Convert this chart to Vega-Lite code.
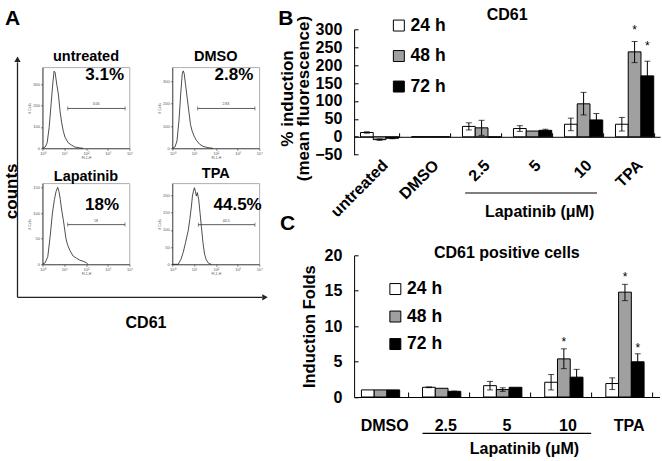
{
  "$schema": "https://vega.github.io/schema/vega-lite/v6.json",
  "autosize": {"type": "none"},
  "padding": {"left": 42.5, "top": 29.3, "right": 619.5, "bottom": 431.7},
  "background": "white",
  "config": {
    "font": "Liberation Sans",
    "view": {"stroke": null},
    "title": {"color": "black", "fontWeight": "bold", "font": "Liberation Sans"},
    "axis": {"labelFont": "Liberation Sans", "titleFont": "Liberation Sans", "grid": false},
    "legend": {"labelFont": "Liberation Sans"}
  },
  "columns": 3,
  "align": "none",
  "bounds": "flush",
  "spacing": {"row": -200, "column": 42.8},
  "resolve": {"scale": {"color": "independent"}, "legend": {"color": "independent"}},
  "datasets": {
    "hu": [{"x":1,"y":0},{"x":1.33,"y":6},{"x":1.64,"y":26},{"x":2.02,"y":97},{"x":2.49,"y":207},{"x":2.96,"y":300},{"x":3.4,"y":360},{"x":3.78,"y":355},{"x":4.5,"y":300},{"x":5.36,"y":253},{"x":6.38,"y":175},{"x":7.59,"y":120},{"x":9.04,"y":80},{"x":10.8,"y":52},{"x":15.2,"y":26},{"x":21.6,"y":15},{"x":30.6,"y":6},{"x":51.7,"y":2},{"x":73.3,"y":0}],
    "hd": [{"x":1,"y":0},{"x":1.33,"y":6},{"x":1.64,"y":33},{"x":2.02,"y":123},{"x":2.49,"y":258},{"x":2.86,"y":333},{"x":3.17,"y":348},{"x":3.52,"y":336},{"x":4.05,"y":288},{"x":4.82,"y":228},{"x":5.74,"y":168},{"x":6.84,"y":108},{"x":8.14,"y":78},{"x":10,"y":55},{"x":12.8,"y":36},{"x":18.2,"y":18},{"x":25.7,"y":9},{"x":43.4,"y":3},{"x":73.3,"y":0}],
    "hl": [{"x":1,"y":0},{"x":1.33,"y":3},{"x":1.75,"y":15},{"x":2.24,"y":54},{"x":2.86,"y":100},{"x":3.52,"y":126},{"x":4.2,"y":142},{"x":5.0,"y":150},{"x":5.74,"y":142},{"x":6.6,"y":126},{"x":7.59,"y":106},{"x":9.04,"y":87},{"x":10,"y":74},{"x":11.9,"y":51},{"x":14.2,"y":38},{"x":18.2,"y":27},{"x":25.7,"y":16},{"x":36.5,"y":12},{"x":51.7,"y":8},{"x":73.3,"y":6},{"x":104,"y":3},{"x":123,"y":0}],
    "ht": [{"x":1,"y":0},{"x":1.88,"y":0},{"x":2.49,"y":14.5},{"x":3.17,"y":34},{"x":4.05,"y":63},{"x":5.36,"y":97},{"x":6.38,"y":130},{"x":7.59,"y":169},{"x":8.43,"y":198},{"x":9.36,"y":212},{"x":10.4,"y":222},{"x":11.5,"y":212},{"x":12.8,"y":198},{"x":14.2,"y":208},{"x":16.4,"y":188},{"x":18.8,"y":150},{"x":21.6,"y":111},{"x":25.7,"y":63},{"x":30.6,"y":29},{"x":36.5,"y":13},{"x":46.6,"y":3},{"x":61.6,"y":0}],
    "bdata": [
      {"cat":"untreated","series":"24 h","v":12},{"cat":"untreated","series":"48 h","v":-8},{"cat":"untreated","series":"72 h","v":-4},
      {"cat":"DMSO","series":"24 h","v":0},{"cat":"DMSO","series":"48 h","v":0},{"cat":"DMSO","series":"72 h","v":0},
      {"cat":"2.5","series":"24 h","v":29},{"cat":"2.5","series":"48 h","v":25},{"cat":"2.5","series":"72 h","v":-1},
      {"cat":"5","series":"24 h","v":23},{"cat":"5","series":"48 h","v":16},{"cat":"5","series":"72 h","v":18},
      {"cat":"10","series":"24 h","v":35},{"cat":"10","series":"48 h","v":92},{"cat":"10","series":"72 h","v":47},
      {"cat":"TPA","series":"24 h","v":35},{"cat":"TPA","series":"48 h","v":237},{"cat":"TPA","series":"72 h","v":170}
    ],
    "berr": [
      {"cat":"untreated","series":"24 h","lo":10,"hi":14},
      {"cat":"untreated","series":"48 h","lo":-10,"hi":-6},
      {"cat":"untreated","series":"72 h","lo":-5.5,"hi":-3},
      {"cat":"2.5","series":"24 h","lo":19,"hi":39},
      {"cat":"2.5","series":"48 h","lo":4,"hi":46},
      {"cat":"5","series":"24 h","lo":15,"hi":31},
      {"cat":"5","series":"72 h","lo":15,"hi":21},
      {"cat":"10","series":"24 h","lo":17,"hi":52},
      {"cat":"10","series":"48 h","lo":61,"hi":124},
      {"cat":"10","series":"72 h","lo":29,"hi":65},
      {"cat":"TPA","series":"24 h","lo":16,"hi":54},
      {"cat":"TPA","series":"48 h","lo":207,"hi":266},
      {"cat":"TPA","series":"72 h","lo":130,"hi":211}
    ],
    "bstar": [{"cat":"TPA","series":"48 h","y":287.7},{"cat":"TPA","series":"72 h","y":241}],
    "cdata": [
      {"cat":"DMSO","series":"24 h","v":1},{"cat":"DMSO","series":"48 h","v":1},{"cat":"DMSO","series":"72 h","v":1},
      {"cat":"2.5","series":"24 h","v":1.37},{"cat":"2.5","series":"48 h","v":1.23},{"cat":"2.5","series":"72 h","v":0.8},
      {"cat":"5","series":"24 h","v":1.6},{"cat":"5","series":"48 h","v":1.05},{"cat":"5","series":"72 h","v":1.37},
      {"cat":"10","series":"24 h","v":2.08},{"cat":"10","series":"48 h","v":5.38},{"cat":"10","series":"72 h","v":2.8},
      {"cat":"TPA","series":"24 h","v":1.9},{"cat":"TPA","series":"48 h","v":14.8},{"cat":"TPA","series":"72 h","v":4.97}
    ],
    "cerr": [
      {"cat":"2.5","series":"24 h","lo":1.32,"hi":1.42},
      {"cat":"2.5","series":"72 h","lo":0.74,"hi":0.84},
      {"cat":"5","series":"24 h","lo":1.0,"hi":2.2},
      {"cat":"5","series":"48 h","lo":0.8,"hi":1.3},
      {"cat":"10","series":"24 h","lo":1.0,"hi":3.17},
      {"cat":"10","series":"48 h","lo":4.0,"hi":6.8},
      {"cat":"10","series":"72 h","lo":1.7,"hi":3.9},
      {"cat":"TPA","series":"24 h","lo":1.05,"hi":2.7},
      {"cat":"TPA","series":"48 h","lo":13.6,"hi":15.9},
      {"cat":"TPA","series":"72 h","lo":3.85,"hi":6.1}
    ],
    "cstar": [{"cat":"10","series":"48 h","y":7.25},{"cat":"TPA","series":"48 h","y":16.4},{"cat":"TPA","series":"72 h","y":6.4}]
  },
  "concat": [
    {
      "width": 87, "height": 237.2,
      "data": {"values": []},
      "mark": {"type": "point", "opacity": 0},
      "title": {"text": "A", "fontSize": 21, "anchor": "start", "frame": "group", "offset": -16.7, "dx": -37.5, "baseline": "alphabetic"}
    },
    {
      "width": 138.4, "height": 1,
      "data": {"values": []},
      "mark": {"type": "point", "opacity": 0},
      "title": {"text": "B", "fontSize": 21, "anchor": "start", "frame": "group", "offset": -16.7, "dx": 106, "baseline": "alphabetic"}
    },
    {
      "width": 306, "height": 125.4,
      "title": {"text": "CD61", "fontSize": 16, "frame": "group", "offset": -20.2, "baseline": "alphabetic"},
      "resolve": {"axis": {"x": "independent", "y": "independent"}},
      "layer": [
        {
          "data": {"name": "bdata"},
          "mark": {"type": "bar", "stroke": "black", "strokeWidth": 1},
          "encoding": {
            "x": {"field": "cat", "type": "nominal", "scale": {"domain": ["untreated","DMSO","2.5","5","10","TPA"], "paddingInner": 0.25, "paddingOuter": 0.125},
                  "axis": {"orient": "bottom", "labelAngle": -45, "labelFontSize": 16, "labelFontWeight": "bold", "labelColor": "black", "ticks": false, "domain": false, "labelPadding": 2,
                           "title": "Lapatinib (μM)", "titleFontSize": 16, "titleFontWeight": "bold", "titleColor": "black", "titleX": 185, "titleY": 62, "titleAlign": "center", "titleBaseline": "alphabetic"}},
            "xOffset": {"field": "series", "type": "nominal", "scale": {"domain": ["24 h","48 h","72 h"]}},
            "y": {"field": "v", "type": "quantitative", "scale": {"domain": [-50, 300]},
                  "axis": {"orient": "left", "values": [-50,0,50,100,150,200,250,300], "labelFontSize": 16, "labelFontWeight": "bold", "labelColor": "black", "ticks": false, "labelPadding": 12.3, "domainColor": "black",
                           "title": ["% induction", "(mean fluorescence)"], "titleFontSize": 17, "titleFontWeight": "bold", "titleColor": "black", "titleLineHeight": 16.5, "titlePadding": 2, "titleAlign": "center", "titleY": 68.7}},
            "color": {"field": "series", "type": "nominal", "scale": {"domain": ["24 h","48 h","72 h"], "range": ["#ffffff","#a0a0a0","#000000"]},
                      "legend": {"orient": "none", "legendX": 36, "legendY": -12.5, "title": null, "direction": "vertical", "symbolType": "square", "symbolSize": 120, "symbolStrokeColor": "black", "symbolStrokeWidth": 1, "labelFontSize": 17.5, "labelFontWeight": "bold", "labelColor": "black", "rowPadding": 11.5, "labelOffset": 3, "padding": 0}}
          }
        },
        {
          "data": {"name": "berr"},
          "mark": {"type": "rule", "color": "black", "strokeWidth": 1},
          "encoding": {
            "x": {"field": "cat", "type": "nominal", "scale": {"domain": ["untreated","DMSO","2.5","5","10","TPA"], "paddingInner": 0.25, "paddingOuter": 0.125},
                  "axis": {"orient": "top", "offset": -107.49, "labels": false, "ticks": true, "tickBand": "extent", "tickSize": 4, "tickColor": "black", "domain": true, "domainColor": "black", "title": null}},
            "xOffset": {"field": "series", "type": "nominal", "scale": {"domain": ["24 h","48 h","72 h"]}},
            "y": {"field": "lo", "type": "quantitative", "scale": {"domain": [-50, 300]},
                  "axis": {"orient": "right", "offset": -306, "values": [-50,0,50,100,150,200,250,300], "labels": false, "domain": false, "ticks": true, "tickSize": 4, "tickColor": "black", "title": null}},
            "y2": {"field": "hi"}
          }
        },
        {
          "data": {"name": "berr"},
          "mark": {"type": "tick", "orient": "horizontal", "size": 6, "thickness": 1, "color": "black"},
          "encoding": {
            "x": {"field": "cat", "type": "nominal", "scale": {"domain": ["untreated","DMSO","2.5","5","10","TPA"], "paddingInner": 0.25, "paddingOuter": 0.125}, "axis": null},
            "xOffset": {"field": "series", "type": "nominal", "scale": {"domain": ["24 h","48 h","72 h"]}},
            "y": {"field": "lo", "type": "quantitative", "scale": {"domain": [-50, 300]}, "axis": null}
          }
        },
        {
          "data": {"name": "berr"},
          "mark": {"type": "tick", "orient": "horizontal", "size": 6, "thickness": 1, "color": "black"},
          "encoding": {
            "x": {"field": "cat", "type": "nominal", "scale": {"domain": ["untreated","DMSO","2.5","5","10","TPA"], "paddingInner": 0.25, "paddingOuter": 0.125}, "axis": null},
            "xOffset": {"field": "series", "type": "nominal", "scale": {"domain": ["24 h","48 h","72 h"]}},
            "y": {"field": "hi", "type": "quantitative", "scale": {"domain": [-50, 300]}, "axis": null}
          }
        },
        {
          "data": {"name": "bstar"},
          "mark": {"type": "text", "text": "*", "fontSize": 12, "color": "black", "baseline": "alphabetic"},
          "encoding": {
            "x": {"field": "cat", "type": "nominal", "scale": {"domain": ["untreated","DMSO","2.5","5","10","TPA"], "paddingInner": 0.25, "paddingOuter": 0.125}, "axis": null},
            "xOffset": {"field": "series", "type": "nominal", "scale": {"domain": ["24 h","48 h","72 h"]}},
            "y": {"field": "y", "type": "quantitative", "scale": {"domain": [-50, 300]}, "axis": null}
          }
        },
        {
          "data": {"values": [{}]},
          "mark": {"type": "rule", "color": "black", "strokeWidth": 1.2},
          "encoding": {
            "x": {"datum": "2.5", "type": "nominal", "bandPosition": 0.07, "scale": {"domain": ["untreated","DMSO","2.5","5","10","TPA"], "paddingInner": 0.25, "paddingOuter": 0.125}, "axis": null},
            "x2": {"datum": "10", "bandPosition": 0.85},
            "y": {"datum": -156.9, "type": "quantitative", "scale": {"domain": [-50, 300]}, "axis": null}
          }
        }
      ]
    },
    {
      "width": 87, "height": 81,
      "view": {"stroke": "#999", "strokeWidth": 0.8},
      "title": {"text": "untreated", "fontSize": 14.5, "frame": "group", "offset": -9.7, "baseline": "alphabetic"},
      "encoding": {
        "x": {"field": "x", "type": "quantitative", "scale": {"type": "log", "domain": [1, 10000]},
              "axis": {"values": [1,10,100,1000,10000], "labelExpr": "'10' + ['⁰','¹','²','³','⁴'][round(log(datum.value)/LN10)]", "labelFontSize": 4, "labelColor": "#555", "labelPadding": 1, "labelOverlap": false, "labelFlush": false, "tickSize": 2, "tickColor": "#333", "domainColor": "#333", "domainWidth": 0.8, "tickWidth": 0.6, "title": "FL1-H", "titleFontSize": 3.5, "titleFontWeight": "normal", "titleColor": "#555", "titlePadding": 0.5}},
        "y": {"field": "y", "type": "quantitative", "scale": {"domain": [0, 378]},
              "axis": {"values": [0,100,200,300], "labelFontSize": 4, "labelColor": "#555", "labelPadding": 1, "labelOverlap": false, "tickSize": 2, "tickColor": "#333", "domainColor": "#333", "domainWidth": 0.8, "tickWidth": 0.6, "title": "# Cells", "titleFontSize": 3.5, "titleFontWeight": "normal", "titleColor": "#555", "titlePadding": 1}}
      },
      "layer": [
        {"data": {"name": "hu"}, "mark": {"type": "line", "color": "#222", "strokeWidth": 0.8}},
        {"data": {"values": [{"x": 14.5, "x2": 6300, "y": 186}]}, "mark": {"type": "rule", "color": "#333", "strokeWidth": 0.8}, "encoding": {"x2": {"field": "x2"}}},
        {"data": {"values": [{"x": 14.5, "y": 186}, {"x": 6300, "y": 186}]}, "mark": {"type": "tick", "orient": "vertical", "size": 4, "thickness": 0.8, "color": "#333"}},
        {"data": {"values": [{"x": 290, "y": 205, "t": "3.06"}]}, "mark": {"type": "text", "fontSize": 3.5, "color": "#444"}, "encoding": {"text": {"field": "t"}}},
        {"data": {"values": [{"x": 5590, "y": 318, "t": "3.1%"}]}, "mark": {"type": "text", "fontSize": 17, "fontWeight": "bold", "align": "right", "baseline": "alphabetic", "color": "black"}, "encoding": {"text": {"field": "t"}}}
      ]
    },
    {
      "width": 87, "height": 81,
      "view": {"stroke": "#999", "strokeWidth": 0.8},
      "title": {"text": "DMSO", "fontSize": 14.5, "frame": "group", "offset": -9.7, "baseline": "alphabetic"},
      "encoding": {
        "x": {"field": "x", "type": "quantitative", "scale": {"type": "log", "domain": [1, 10000]},
              "axis": {"values": [1,10,100,1000,10000], "labelExpr": "'10' + ['⁰','¹','²','³','⁴'][round(log(datum.value)/LN10)]", "labelFontSize": 4, "labelColor": "#555", "labelPadding": 1, "labelOverlap": false, "labelFlush": false, "tickSize": 2, "tickColor": "#333", "domainColor": "#333", "domainWidth": 0.8, "tickWidth": 0.6, "title": "FL1-H", "titleFontSize": 3.5, "titleFontWeight": "normal", "titleColor": "#555", "titlePadding": 0.5}},
        "y": {"field": "y", "type": "quantitative", "scale": {"domain": [0, 364]},
              "axis": {"values": [0,100,200,300], "labelFontSize": 4, "labelColor": "#555", "labelPadding": 1, "labelOverlap": false, "tickSize": 2, "tickColor": "#333", "domainColor": "#333", "domainWidth": 0.8, "tickWidth": 0.6, "title": "# Cells", "titleFontSize": 3.5, "titleFontWeight": "normal", "titleColor": "#555", "titlePadding": 1}}
      },
      "layer": [
        {"data": {"name": "hd"}, "mark": {"type": "line", "color": "#222", "strokeWidth": 0.8}},
        {"data": {"values": [{"x": 14.7, "x2": 6300, "y": 179}]}, "mark": {"type": "rule", "color": "#333", "strokeWidth": 0.8}, "encoding": {"x2": {"field": "x2"}}},
        {"data": {"values": [{"x": 14.7, "y": 179}, {"x": 6300, "y": 179}]}, "mark": {"type": "tick", "orient": "vertical", "size": 4, "thickness": 0.8, "color": "#333"}},
        {"data": {"values": [{"x": 290, "y": 197, "t": "2.83"}]}, "mark": {"type": "text", "fontSize": 3.5, "color": "#444"}, "encoding": {"text": {"field": "t"}}},
        {"data": {"values": [{"x": 5300, "y": 306.5, "t": "2.8%"}]}, "mark": {"type": "text", "fontSize": 17, "fontWeight": "bold", "align": "right", "baseline": "alphabetic", "color": "black"}, "encoding": {"text": {"field": "t"}}}
      ]
    },
    {
      "width": 1, "height": 315.5,
      "data": {"values": []},
      "mark": {"type": "point", "opacity": 0}
    },
    {
      "width": 87, "height": 81,
      "view": {"stroke": "#999", "strokeWidth": 0.8},
      "title": {"text": "Lapatinib", "fontSize": 14.5, "frame": "group", "offset": -138.4, "baseline": "alphabetic"},
      "encoding": {
        "x": {"field": "x", "type": "quantitative", "scale": {"type": "log", "domain": [1, 10000]},
              "axis": {"values": [1,10,100,1000,10000], "labelExpr": "'10' + ['⁰','¹','²','³','⁴'][round(log(datum.value)/LN10)]", "labelFontSize": 4, "labelColor": "#555", "labelPadding": 1, "labelOverlap": false, "labelFlush": false, "tickSize": 2, "tickColor": "#333", "domainColor": "#333", "domainWidth": 0.8, "tickWidth": 0.6, "title": "FL1-H", "titleFontSize": 3.5, "titleFontWeight": "normal", "titleColor": "#555", "titlePadding": 0.5}},
        "y": {"field": "y", "type": "quantitative", "scale": {"domain": [0, 158]},
              "axis": {"values": [0,50,100,150], "labelFontSize": 4, "labelColor": "#555", "labelPadding": 1, "labelOverlap": false, "tickSize": 2, "tickColor": "#333", "domainColor": "#333", "domainWidth": 0.8, "tickWidth": 0.6, "title": "# Cells", "titleFontSize": 3.5, "titleFontWeight": "normal", "titleColor": "#555", "titlePadding": 1}}
      },
      "layer": [
        {"data": {"name": "hl"}, "mark": {"type": "line", "color": "#222", "strokeWidth": 0.8}},
        {"data": {"values": [{"x": 14.4, "x2": 6200, "y": 77.4}]}, "mark": {"type": "rule", "color": "#333", "strokeWidth": 0.8}, "encoding": {"x2": {"field": "x2"}}},
        {"data": {"values": [{"x": 14.4, "y": 77.4}, {"x": 6200, "y": 77.4}]}, "mark": {"type": "tick", "orient": "vertical", "size": 4, "thickness": 0.8, "color": "#333"}},
        {"data": {"values": [{"x": 290, "y": 85.2, "t": "18"}]}, "mark": {"type": "text", "fontSize": 3.5, "color": "#444"}, "encoding": {"text": {"field": "t"}}},
        {"data": {"values": [{"x": 3290, "y": 106.7, "t": "18%"}]}, "mark": {"type": "text", "fontSize": 17, "fontWeight": "bold", "align": "right", "baseline": "alphabetic", "color": "black"}, "encoding": {"text": {"field": "t"}}},
        {"data": {"values": [{"x": 0.0709, "y": -64.4, "y2": 394}]}, "mark": {"type": "rule", "color": "#222", "strokeWidth": 1.3}, "encoding": {"y2": {"field": "y2"}}},
        {"data": {"values": [{"x": 0.0709, "x2": 1.24e10, "y": -64.4}]}, "mark": {"type": "rule", "color": "#222", "strokeWidth": 1.3}, "encoding": {"x2": {"field": "x2"}}},
        {"data": {"values": [{"x": 0.0709, "y": 399.8}]}, "mark": {"type": "point", "shape": "triangle-up", "size": 40, "filled": true, "color": "#222", "opacity": 1}},
        {"data": {"values": [{"x": 1.7e10, "y": -64.4}]}, "mark": {"type": "point", "shape": "triangle-right", "size": 40, "filled": true, "color": "#222", "opacity": 1}},
        {"data": {"values": [{"x": 0.0376, "y": 142.4, "t": "counts"}]}, "mark": {"type": "text", "fontSize": 17, "fontWeight": "bold", "angle": 270, "align": "center", "baseline": "middle", "color": "black"}, "encoding": {"text": {"field": "t"}}},
        {"data": {"values": [{"x": 57400, "y": -124.2, "t": "CD61"}]}, "mark": {"type": "text", "fontSize": 16, "fontWeight": "bold", "align": "center", "baseline": "alphabetic", "color": "black"}, "encoding": {"text": {"field": "t"}}}
      ]
    },
    {
      "width": 87, "height": 81,
      "view": {"stroke": "#999", "strokeWidth": 0.8},
      "title": {"text": "TPA", "fontSize": 14.5, "frame": "group", "offset": -9.2, "baseline": "alphabetic"},
      "encoding": {
        "x": {"field": "x", "type": "quantitative", "scale": {"type": "log", "domain": [1, 10000]},
              "axis": {"values": [1,10,100,1000,10000], "labelExpr": "'10' + ['⁰','¹','²','³','⁴'][round(log(datum.value)/LN10)]", "labelFontSize": 4, "labelColor": "#555", "labelPadding": 1, "labelOverlap": false, "labelFlush": false, "tickSize": 2, "tickColor": "#333", "domainColor": "#333", "domainWidth": 0.8, "tickWidth": 0.6, "title": "FL1-H", "titleFontSize": 3.5, "titleFontWeight": "normal", "titleColor": "#555", "titlePadding": 0.5}},
        "y": {"field": "y", "type": "quantitative", "scale": {"domain": [0, 235]},
              "axis": {"values": [0,50,100,150,200], "labelFontSize": 4, "labelColor": "#555", "labelPadding": 1, "labelOverlap": false, "tickSize": 2, "tickColor": "#333", "domainColor": "#333", "domainWidth": 0.8, "tickWidth": 0.6, "title": "# Cells", "titleFontSize": 3.5, "titleFontWeight": "normal", "titleColor": "#555", "titlePadding": 1}}
      },
      "layer": [
        {"data": {"name": "ht"}, "mark": {"type": "line", "color": "#222", "strokeWidth": 0.8}},
        {"data": {"values": [{"x": 15.7, "x2": 6300, "y": 115}]}, "mark": {"type": "rule", "color": "#333", "strokeWidth": 0.8}, "encoding": {"x2": {"field": "x2"}}},
        {"data": {"values": [{"x": 15.7, "y": 115}, {"x": 6300, "y": 115}]}, "mark": {"type": "tick", "orient": "vertical", "size": 4, "thickness": 0.8, "color": "#333"}},
        {"data": {"values": [{"x": 300, "y": 126.6, "t": "44.5"}]}, "mark": {"type": "text", "fontSize": 3.5, "color": "#444"}, "encoding": {"text": {"field": "t"}}},
        {"data": {"values": [{"x": 12900, "y": 158.7, "t": "44.5%"}]}, "mark": {"type": "text", "fontSize": 17, "fontWeight": "bold", "align": "right", "baseline": "alphabetic", "color": "black"}, "encoding": {"text": {"field": "t"}}}
      ]
    },
    {
      "width": 1, "height": 272,
      "data": {"values": []},
      "mark": {"type": "point", "opacity": 0}
    },
    {
      "width": 1, "height": 1,
      "data": {"values": []},
      "mark": {"type": "point", "opacity": 0},
      "title": {"text": "C", "fontSize": 21, "anchor": "start", "frame": "group", "offset": 4, "dx": 237.5, "baseline": "alphabetic"}
    },
    {
      "width": 1, "height": 1,
      "data": {"values": []},
      "mark": {"type": "point", "opacity": 0}
    },
    {
      "width": 305.5, "height": 141.7,
      "title": {"text": "CD61 positive cells", "fontSize": 16, "frame": "group", "offset": -27, "baseline": "alphabetic"},
      "resolve": {"axis": {"x": "independent", "y": "independent"}},
      "layer": [
        {
          "data": {"name": "cdata"},
          "mark": {"type": "bar", "stroke": "black", "strokeWidth": 1},
          "encoding": {
            "x": {"field": "cat", "type": "nominal", "scale": {"domain": ["DMSO","2.5","5","10","TPA"], "paddingInner": 0.24, "paddingOuter": 0.12},
                  "axis": {"orient": "bottom", "labelAngle": 0, "labelFontSize": 16, "labelFontWeight": "bold", "labelColor": "black", "ticks": false, "domain": false, "labelPadding": 20,
                           "title": "Lapatinib (μM)", "titleFontSize": 16, "titleFontWeight": "bold", "titleColor": "black", "titleX": 169.8, "titleY": 56.3, "titleAlign": "center", "titleBaseline": "alphabetic"}},
            "xOffset": {"field": "series", "type": "nominal", "scale": {"domain": ["24 h","48 h","72 h"]}},
            "y": {"field": "v", "type": "quantitative", "scale": {"domain": [0, 20]},
                  "axis": {"orient": "left", "values": [0,5,10,15,20], "labelFontSize": 16, "labelFontWeight": "bold", "labelColor": "black", "ticks": false, "labelPadding": 12.3, "domainColor": "black",
                           "title": "Induction Folds", "titleFontSize": 16.5, "titleFontWeight": "bold", "titleColor": "black", "titlePadding": 7}},
            "color": {"field": "series", "type": "nominal", "scale": {"domain": ["24 h","48 h","72 h"], "range": ["#ffffff","#a0a0a0","#000000"]},
                      "legend": {"orient": "none", "legendX": 32.5, "legendY": 25, "title": null, "direction": "vertical", "symbolType": "square", "symbolSize": 120, "symbolStrokeColor": "black", "symbolStrokeWidth": 1, "labelFontSize": 17.5, "labelFontWeight": "bold", "labelColor": "black", "rowPadding": 8.5, "labelOffset": 3, "padding": 0}}
          }
        },
        {
          "data": {"name": "cerr"},
          "mark": {"type": "rule", "color": "black", "strokeWidth": 1},
          "encoding": {
            "x": {"field": "cat", "type": "nominal", "scale": {"domain": ["DMSO","2.5","5","10","TPA"], "paddingInner": 0.24, "paddingOuter": 0.12},
                  "axis": {"orient": "top", "offset": -141.7, "labels": false, "ticks": true, "tickBand": "extent", "tickSize": 5, "tickColor": "black", "domain": true, "domainColor": "black", "title": null}},
            "xOffset": {"field": "series", "type": "nominal", "scale": {"domain": ["24 h","48 h","72 h"]}},
            "y": {"field": "lo", "type": "quantitative", "scale": {"domain": [0, 20]},
                  "axis": {"orient": "right", "offset": -305.5, "values": [0,5,10,15,20], "labels": false, "domain": false, "ticks": true, "tickSize": 4, "tickColor": "black", "title": null}},
            "y2": {"field": "hi"}
          }
        },
        {
          "data": {"name": "cerr"},
          "mark": {"type": "tick", "orient": "horizontal", "size": 6, "thickness": 1, "color": "black"},
          "encoding": {
            "x": {"field": "cat", "type": "nominal", "scale": {"domain": ["DMSO","2.5","5","10","TPA"], "paddingInner": 0.24, "paddingOuter": 0.12}, "axis": null},
            "xOffset": {"field": "series", "type": "nominal", "scale": {"domain": ["24 h","48 h","72 h"]}},
            "y": {"field": "lo", "type": "quantitative", "scale": {"domain": [0, 20]}, "axis": null}
          }
        },
        {
          "data": {"name": "cerr"},
          "mark": {"type": "tick", "orient": "horizontal", "size": 6, "thickness": 1, "color": "black"},
          "encoding": {
            "x": {"field": "cat", "type": "nominal", "scale": {"domain": ["DMSO","2.5","5","10","TPA"], "paddingInner": 0.24, "paddingOuter": 0.12}, "axis": null},
            "xOffset": {"field": "series", "type": "nominal", "scale": {"domain": ["24 h","48 h","72 h"]}},
            "y": {"field": "hi", "type": "quantitative", "scale": {"domain": [0, 20]}, "axis": null}
          }
        },
        {
          "data": {"name": "cstar"},
          "mark": {"type": "text", "text": "*", "fontSize": 12, "color": "black", "baseline": "alphabetic"},
          "encoding": {
            "x": {"field": "cat", "type": "nominal", "scale": {"domain": ["DMSO","2.5","5","10","TPA"], "paddingInner": 0.24, "paddingOuter": 0.12}, "axis": null},
            "xOffset": {"field": "series", "type": "nominal", "scale": {"domain": ["24 h","48 h","72 h"]}},
            "y": {"field": "y", "type": "quantitative", "scale": {"domain": [0, 20]}, "axis": null}
          }
        },
        {
          "data": {"values": [{}]},
          "mark": {"type": "rule", "color": "black", "strokeWidth": 1.2},
          "encoding": {
            "x": {"datum": "2.5", "type": "nominal", "bandPosition": 0, "scale": {"domain": ["DMSO","2.5","5","10","TPA"], "paddingInner": 0.24, "paddingOuter": 0.12}, "axis": null},
            "x2": {"datum": "10", "bandPosition": 1},
            "y": {"datum": -5.12, "type": "quantitative", "scale": {"domain": [0, 20]}, "axis": null}
          }
        }
      ]
    }
  ]
}
